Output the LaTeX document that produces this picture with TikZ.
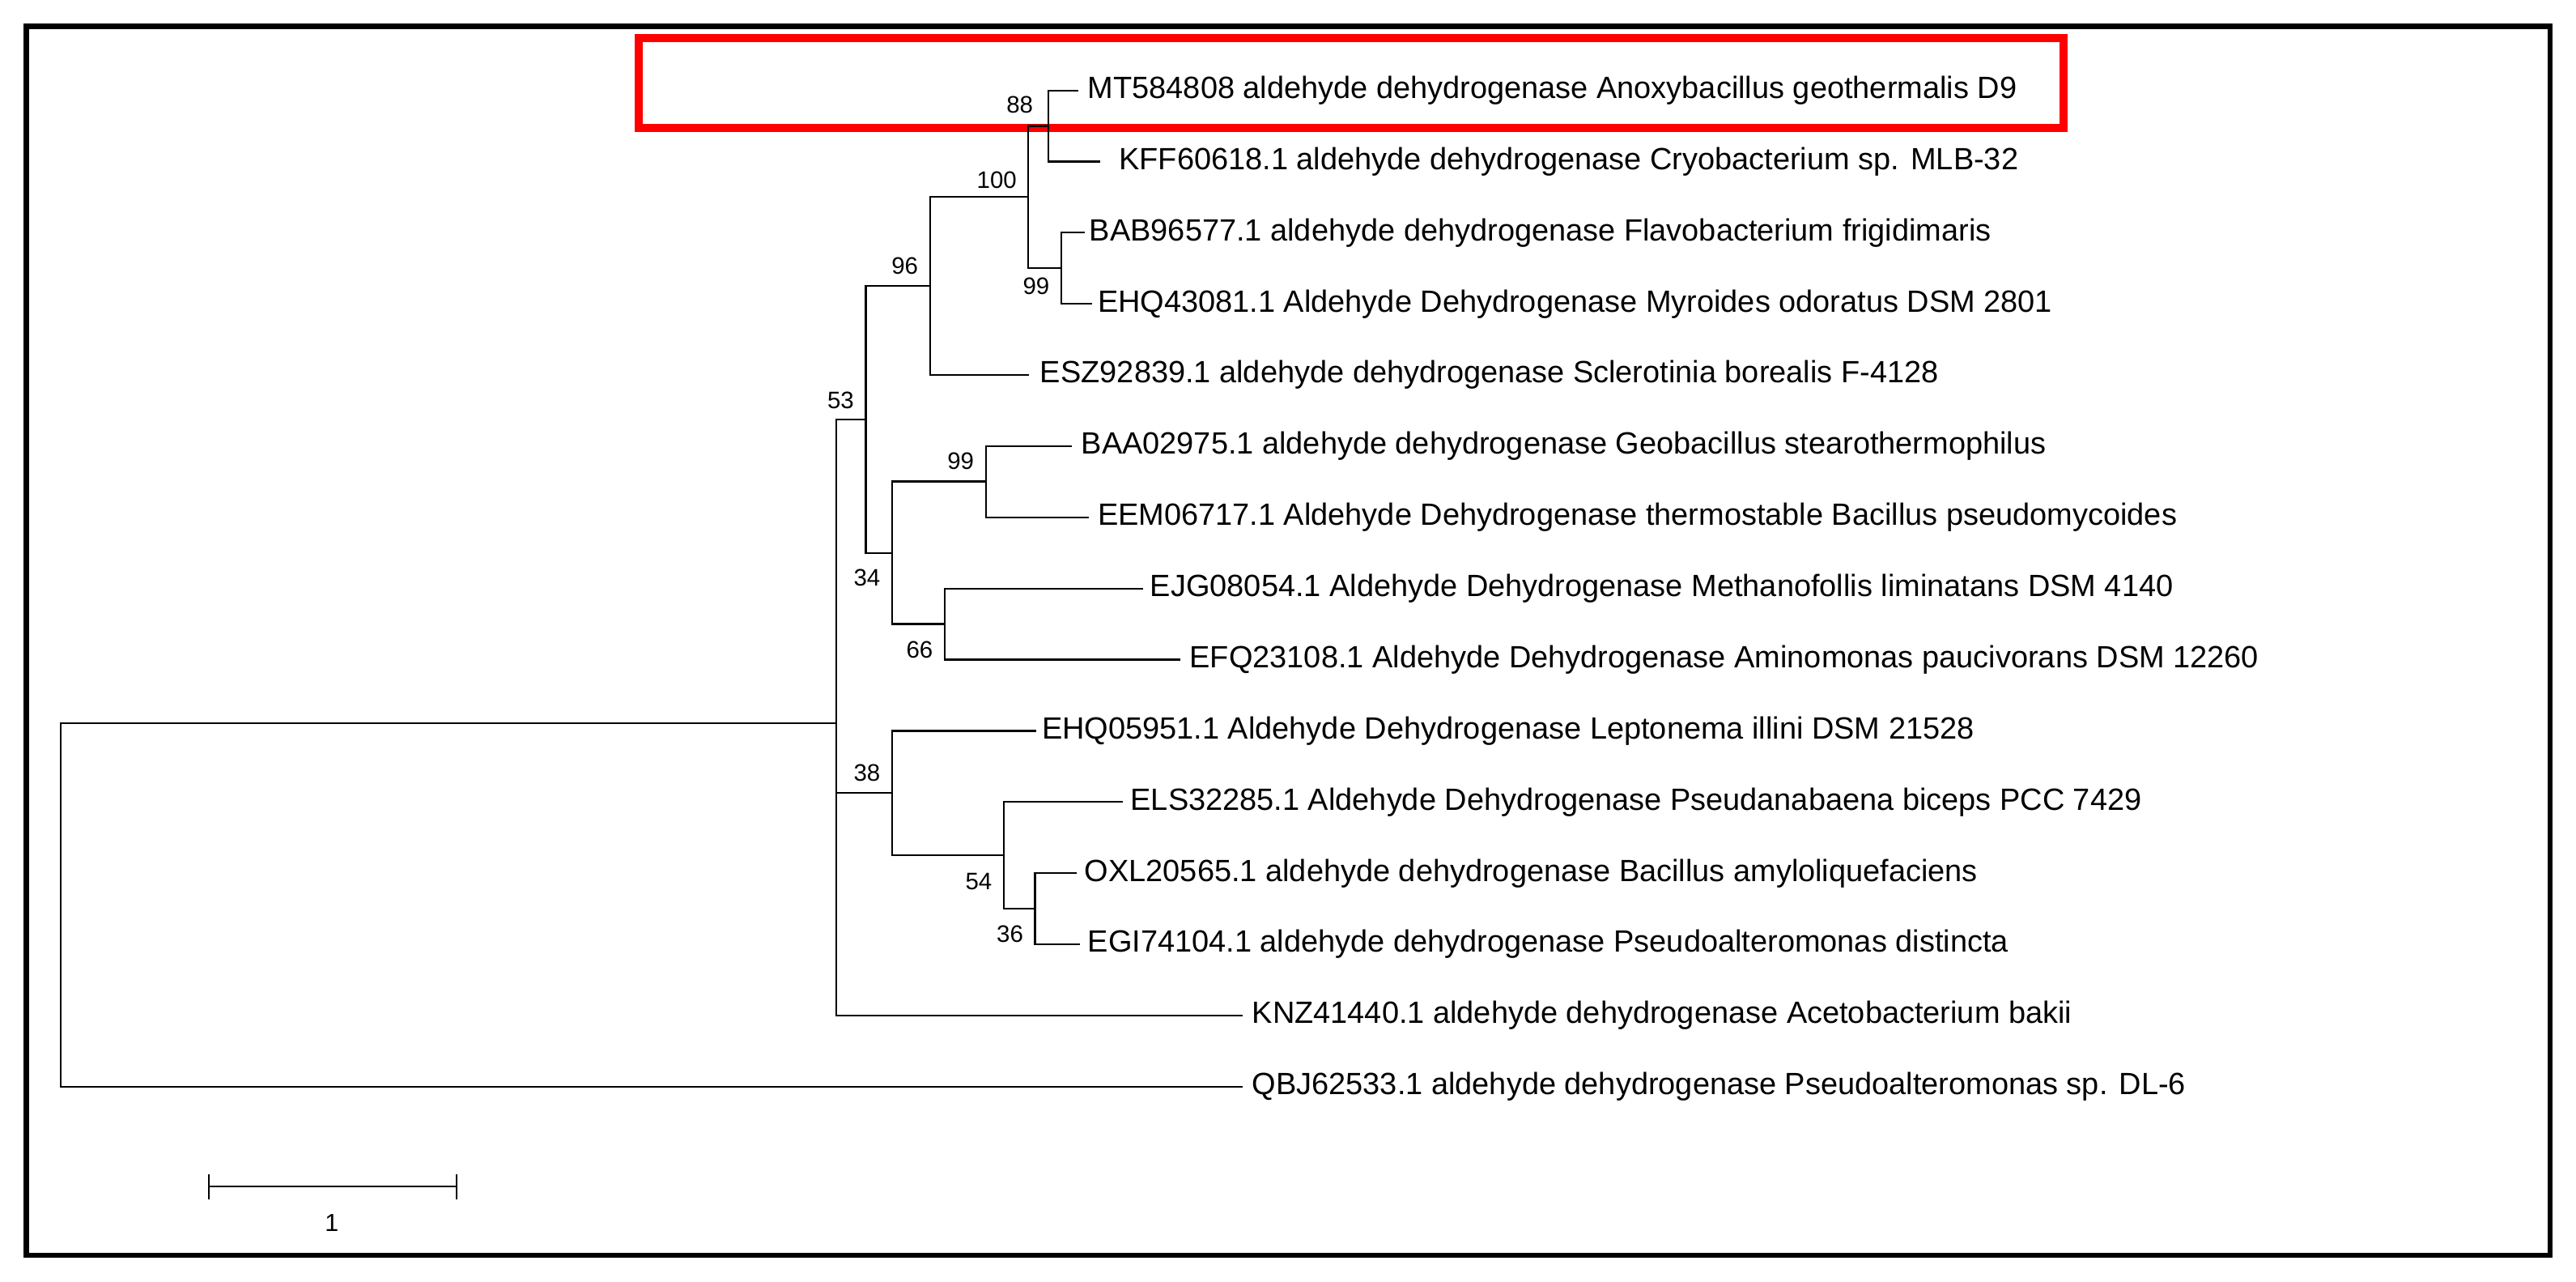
\documentclass[tikz,border=0pt]{standalone}
\usepackage{fontspec}
\setmainfont{Liberation Sans}
\begin{document}
\begin{tikzpicture}[x=1pt,y=-1pt,
  br/.style={line width=1.1pt,line cap=rect},
  leaf/.style={anchor=west,inner sep=0pt,font=\fontsize{18.7}{19}\selectfont},
  bs/.style={anchor=south east,inner sep=1pt,font=\fontsize{14.5}{15}\selectfont},
  bsb/.style={anchor=north east,inner sep=1pt,font=\fontsize{14.5}{15}\selectfont}]
\useasboundingbox (0,0) rectangle (1568,779.6);
\fill[white] (0,0) rectangle (1568,779.6);
\draw[line width=3pt] (16,16) rectangle (1552,764);
\draw[red,line width=5pt] (389,23) rectangle (1256,78);
% leaves
\def\ly#1{55+43.3*(#1-1)}
\node[leaf] (l1) at (662,{\ly{1}}) {MT584808 aldehyde dehydrogenase Anoxybacillus geothermalis D9};
\node[leaf] (l2) at (681,{\ly{2}}) {KFF60618.1 aldehyde dehydrogenase Cryobacterium sp. MLB-32};
\node[leaf] (l3) at (663,{\ly{3}}) {BAB96577.1 aldehyde dehydrogenase Flavobacterium frigidimaris};
\node[leaf] (l4) at (668,{\ly{4}}) {EHQ43081.1 Aldehyde Dehydrogenase Myroides odoratus DSM 2801};
\node[leaf] (l5) at (633,{\ly{5}}) {ESZ92839.1 aldehyde dehydrogenase Sclerotinia borealis F-4128};
\node[leaf] (l6) at (658,{\ly{6}}) {BAA02975.1 aldehyde dehydrogenase Geobacillus stearothermophilus};
\node[leaf] (l7) at (668,{\ly{7}}) {EEM06717.1 Aldehyde Dehydrogenase thermostable Bacillus pseudomycoides};
\node[leaf] (l8) at (700,{\ly{8}}) {EJG08054.1 Aldehyde Dehydrogenase Methanofollis liminatans DSM 4140};
\node[leaf] (l9) at (724,{\ly{9}}) {EFQ23108.1 Aldehyde Dehydrogenase Aminomonas paucivorans DSM 12260};
\node[leaf] (l10) at (634,{\ly{10}}) {EHQ05951.1 Aldehyde Dehydrogenase Leptonema illini DSM 21528};
\node[leaf] (l11) at (688,{\ly{11}}) {ELS32285.1 Aldehyde Dehydrogenase Pseudanabaena biceps PCC 7429};
\node[leaf] (l12) at (660,{\ly{12}}) {OXL20565.1 aldehyde dehydrogenase Bacillus amyloliquefaciens};
\node[leaf] (l13) at (662,{\ly{13}}) {EGI74104.1 aldehyde dehydrogenase Pseudoalteromonas distincta};
\node[leaf] (l14) at (762,{\ly{14}}) {KNZ41440.1 aldehyde dehydrogenase Acetobacterium bakii};
\node[leaf] (l15) at (762,{\ly{15}}) {QBJ62533.1 aldehyde dehydrogenase Pseudoalteromonas sp. DL-6};
% internal nodes
\coordinate (n88) at (638,76.6);
\coordinate (n99a) at (646,163.2);
\coordinate (n100) at (626,119.9);
\coordinate (n96) at (566,174);
\coordinate (n99b) at (600,293);
\coordinate (n66) at (575,379.7);
\coordinate (n34) at (543,336.4);
\coordinate (n53) at (527,255.2);
\coordinate (n36) at (630,552.9);
\coordinate (n54) at (611,520.5);
\coordinate (n38) at (543,482.6);
\coordinate (nin) at (509,440);
\coordinate (root) at (37,440);
\def\cladec#1#2#3{\draw[br] (#2) -| (#1) |- (#3);}
\draw[br] ([xshift=-6pt]l1.west) -| (n88) |- ([xshift=-12pt]l2.west);
\draw[br] ([xshift=-3pt]l3.west) -| (n99a) |- ([xshift=-4pt]l4.west);
\cladec{n100}{n88}{n99a}
\cladec{n96}{n100}{[xshift=-7pt]l5.west}
\draw[br] ([xshift=-6pt]l6.west) -| (n99b) |- ([xshift=-6pt]l7.west);
\draw[br] ([xshift=-5pt]l8.west) -| (n66) |- ([xshift=-6pt]l9.west);
\cladec{n34}{n99b}{n66}
\cladec{n53}{n96}{n34}
\draw[br] ([xshift=-5pt]l12.west) -| (n36) |- ([xshift=-5pt]l13.west);
\cladec{n54}{[xshift=-5pt]l11.west}{n36}
\cladec{n38}{[xshift=-4pt]l10.west}{n54}
\draw[br] (n53) -| (nin) |- ([xshift=-6pt]l14.west);
\draw[br] (n38) -- (n38 -| nin);
\draw[br] (nin) -- (root) |- ([xshift=-6pt]l15.west);
% bootstrap
\node[bs] (b88) at (630,70) {88};
\node[bs] (b100) at (620,116) {100};
\node[bsb] (b99a) at (640,168) {99};
\node[bs] (b96) at (560,168) {96};
\node[bs] (b53) at (521,250) {53};
\node[bs] (b99b) at (594,287) {99};
\node[bsb] (b34) at (537,345) {34};
\node[bsb] (b66) at (569,389) {66};
\node[bsb] (b38) at (537,464) {38};
\node[bsb] (b54) at (605,530) {54};
\node[bsb] (b36) at (624,562) {36};
% scale bar
\coordinate (s1) at (127,722);
\coordinate (s2) at (278,722);
\draw[br] (s1) -- (s2);
\draw[br] ([yshift=-7pt]s1) -- ([yshift=7pt]s1);
\draw[br] ([yshift=-7pt]s2) -- ([yshift=7pt]s2);
\node[font=\fontsize{15}{16}\selectfont] (sl) at (202,744) {1};
\end{tikzpicture}
\end{document}
